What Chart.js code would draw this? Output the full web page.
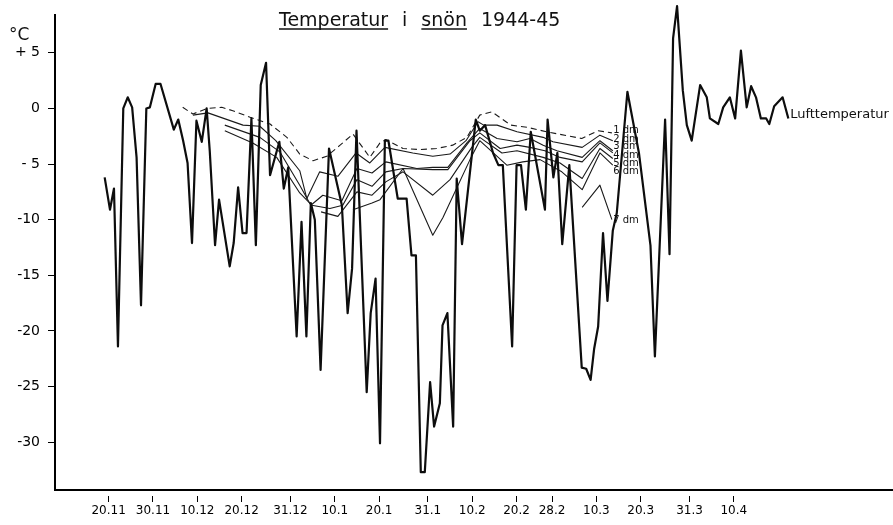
<!DOCTYPE html>
<html>
<head>
<meta charset="utf-8">
<script src="https://cdn.jsdelivr.net/npm/chart.js@4.4.1/dist/chart.umd.min.js"></script>
<style>
  html, body { margin: 0; padding: 0; background: #fff; }
  #wrap { width: 893px; height: 525px; }
</style>
</head>
<body>
<div id="wrap"><canvas id="snoChart" width="893" height="525"></canvas></div>
<script>
// x = dag räknat från 1 nov 1944 (1.11 = 1, 1.12 = 31, 1.1 = 62 ...)
const tickDays = [20, 30, 40, 50, 61, 71, 81, 92, 102, 112, 120, 130, 140, 151, 161];
const tickLabels = ['20.11', '30.11', '10.12', '20.12', '31.12', '10.1', '20.1', '31.1', '10.2', '20.2', '28.2', '10.3', '20.3', '31.3', '10.4'];
const tempTicks = [5, 0, -5, -10, -15, -20, -25, -30];
const tempTickLabels = ['+ 5', '0', '- 5', '-10', '-15', '-20', '-25', '-30'];

// lufttemperatur
const airDays = [19.1,20.3,21.2,22.1,23.3,24.3,25.3,26.3,27.3,28.5,29.3,30.6,31.7,34.7,35.7,36.8,37.8,38.8,39.8,41.0,
  42.1,42.8,44.0,44.9,47.3,48.2,49.2,50.2,51.1,52.2,53.2,54.3,55.5,56.4,58.5,59.5,60.5,62.4,63.5,64.6,
  65.6,66.5,67.8,69.7,72.6,73.9,74.9,75.9,78.2,79.1,80.2,81.2,82.3,83.1,85.2,87.2,88.3,89.3,90.4,91.3,
  92.5,93.4,94.7,95.3,96.4,97.7,98.5,99.7,102.8,103.7,104.9,106.7,107.9,108.9,111.0,112.0,113.0,114.1,115.2,118.4,
  119.0,120.3,121.2,122.3,123.9,126.7,127.7,128.7,129.5,130.4,131.5,132.5,133.7,134.6,137.0,139.6,142.2,143.2,145.5,146.5,
  147.3,148.2,149.5,150.4,151.5,153.4,154.9,155.6,157.5,158.6,160.1,161.3,162.6,163.9,164.9,166.0,167.1,168.3,169.0,170.1,
  172.0,173.3];
const airTemps = [-6.2,-9.1,-7.2,-21.4,0,1.0,0.1,-4.4,-17.7,0,0.1,2.2,2.2,-1.9,-1.0,-2.9,-4.9,-12.1,-1.1,-3.0,
  0,-3.8,-12.3,-8.2,-14.2,-12.1,-7.1,-11.2,-11.2,-0.9,-12.3,2.1,4.1,-6.0,-3.0,-7.2,-5.3,-20.5,-10.2,-20.5,
  -8.5,-10.0,-23.5,-3.6,-8.7,-18.4,-14.4,-2.0,-25.5,-18.4,-15.3,-30.1,-2.9,-2.9,-8.1,-8.1,-13.2,-13.2,-32.7,-32.7,
  -24.6,-28.6,-26.5,-19.5,-18.4,-28.6,-6.3,-12.2,-1.0,-2.0,-1.5,-4.0,-5.1,-5.1,-21.4,-5.1,-5.1,-9.1,-2.1,-9.1,
  -1.0,-6.2,-4.0,-12.2,-5.1,-23.3,-23.4,-24.4,-21.6,-19.6,-11.2,-17.3,-11.0,-9.4,1.5,-4.0,-12.3,-22.3,-1.0,-13.1,
  6.3,9.2,1.6,-1.5,-2.9,2.1,1.0,-0.9,-1.4,0.1,1.0,-0.9,5.2,0.1,2.0,1.0,-0.9,-0.9,-1.4,0.2,
  1.0,-0.9];

// temperatur i snön, djup 1-7 dm
const dm1Days = [36.7,39.0,42.2,45.5,48.0,51.9,56.4,60.2,63.1,66.1,69.2,72.2,75.1,78.9,81.2,82.5,86.4,90.2,94.0,97.6,100.8,103.7,106.4,110.7,114.5,118.8,126.7,130.4,133.5];
const dm1Temps = [0.1,-0.5,0.0,0.1,-0.2,-0.8,-1.4,-2.6,-4.1,-4.7,-4.3,-3.3,-2.3,-4.4,-3.1,-2.8,-3.6,-3.7,-3.6,-3.3,-2.6,-0.6,-0.3,-1.5,-1.7,-2.1,-2.7,-2.0,-2.2];

const dm2Days = [39.0,42.4,50.3,54.1,57.7,63.1,64.7,67.6,71.7,75.8,78.9,82.3,88.6,93.1,97.0,100.6,103.3,104.6,107.6,112.1,118.0,120.2,126.8,130.8,133.7];
const dm2Temps = [-0.6,-0.4,-1.5,-1.6,-2.9,-5.6,-8.1,-5.7,-6.1,-4.0,-4.9,-3.5,-4.0,-4.3,-4.1,-2.9,-1.2,-1.5,-1.5,-2.1,-2.6,-3.0,-3.5,-2.4,-2.9];

const dm3Days = [46.2,54.1,58.6,63.1,65.6,68.3,72.6,76.0,79.4,82.5,89.5,93.1,96.5,100.8,103.7,107.6,112.1,115.0,118.0,121.1,126.8,130.8,133.7];
const dm3Temps = [-1.5,-2.6,-3.9,-6.9,-8.7,-7.8,-8.3,-5.4,-5.8,-4.8,-5.4,-5.3,-5.3,-3.1,-1.8,-2.7,-3.0,-2.7,-3.3,-3.8,-4.4,-2.9,-3.8];

const dm4Days = [46.2,52.5,57.9,63.1,65.8,69.9,72.8,76.0,79.4,82.5,86.4,93.1,96.5,101.5,103.7,108.3,112.1,115.0,118.4,121.8,126.8,130.8,133.7];
const dm4Temps = [-2.0,-3.1,-4.4,-7.6,-8.7,-9.0,-8.7,-6.4,-7.0,-5.7,-5.4,-5.5,-5.5,-2.9,-2.2,-3.6,-3.3,-3.5,-3.8,-4.4,-4.8,-3.1,-4.0];

const dm5Days = [67.9,71.7,76.0,79.4,82.5,86.4,93.1,97.0,101.9,103.7,108.7,112.1,118.0,121.8,126.8,130.8,133.7];
const dm5Temps = [-9.3,-9.7,-7.5,-7.8,-6.6,-5.7,-7.8,-6.4,-3.5,-2.6,-4.0,-3.8,-4.4,-4.9,-6.3,-3.6,-4.5];

const dm6Days = [75.1,79.4,81.2,86.4,93.1,95.4,101.5,103.7,109.8,113.4,117.3,122.2,126.8,130.8,133.7];
const dm6Temps = [-9.1,-8.5,-8.2,-5.4,-11.4,-9.8,-4.6,-2.9,-5.1,-4.8,-4.6,-5.7,-7.3,-4.0,-5.1];

const dm7Days = [126.8,130.8,133.5];
const dm7Temps = [-8.9,-6.9,-10.0];

const depthLabels = ['1 dm', '2 dm', '3 dm', '4 dm', '5 dm', '6 dm', '7 dm'];

function serie(days, temps) {
  return days.map((d, i) => ({ x: d, y: temps[i] }));
}

function snoLinje(label, days, temps, dash) {
  return {
    label: label,
    data: serie(days, temps),
    borderColor: '#1a1a1a',
    borderWidth: 1.1,
    borderDash: dash || [],
    borderJoinStyle: 'round',
    pointRadius: 0,
    tension: 0,
    fill: false
  };
}

// texter: rubrik, enhet och linjenamn
const texter = {
  id: 'texter',
  afterDraw(chart) {
    const { ctx, scales: { x, y } } = chart;
    ctx.save();
    ctx.fillStyle = '#111';
    ctx.strokeStyle = '#111';

    // rubrik
    ctx.font = '19px "DejaVu Sans"';
    ctx.textAlign = 'left';
    ctx.textBaseline = 'alphabetic';
    const ord = ['Temperatur', 'i', 'snön', '1944-45'];
    let px = 279;
    ord.forEach((w, i) => {
      const b = ctx.measureText(w).width;
      ctx.fillText(w, px, 26);
      if (i === 0 || i === 2) {
        ctx.lineWidth = 1.3;
        ctx.beginPath();
        ctx.moveTo(px, 29);
        ctx.lineTo(px + b, 29);
        ctx.stroke();
      }
      px += b + 14;
    });

    // enhet
    ctx.font = '17px "DejaVu Sans"';
    ctx.fillText('°C', 9, 40);

    // Lufttemperatur
    ctx.font = '13px "DejaVu Sans"';
    ctx.textBaseline = 'middle';
    ctx.fillText('Lufttemperatur', x.getPixelForValue(173.7), y.getPixelForValue(-0.6));

    // djupangivelser vid linjernas slut
    ctx.font = '10px "DejaVu Sans"';
    const labelTemps = [-1.95, -2.75, -3.45, -4.2, -4.9, -5.7, -10.1];
    depthLabels.forEach((t, i) => {
      ctx.fillText(t, x.getPixelForValue(133.8), y.getPixelForValue(labelTemps[i]));
    });
    ctx.restore();
  }
};

new Chart(document.getElementById('snoChart'), {
  type: 'line',
  data: {
    datasets: [
      {
        label: 'Lufttemperatur',
        data: serie(airDays, airTemps),
        borderColor: '#0d0d0d',
        borderWidth: 2.2,
        borderJoinStyle: 'round',
        pointRadius: 0,
        tension: 0,
        fill: false,
        clip: false
      },
      snoLinje('1 dm', dm1Days, dm1Temps, [6, 4]),
      snoLinje('2 dm', dm2Days, dm2Temps),
      snoLinje('3 dm', dm3Days, dm3Temps),
      snoLinje('4 dm', dm4Days, dm4Temps),
      snoLinje('5 dm', dm5Days, dm5Temps),
      snoLinje('6 dm', dm6Days, dm6Temps),
      snoLinje('7 dm', dm7Days, dm7Temps)
    ]
  },
  options: {
    responsive: false,
    devicePixelRatio: 1,
    animation: false,
    layout: { padding: { top: 15, left: 0, right: 0, bottom: 0 } },
    plugins: {
      legend: { display: false },
      tooltip: { enabled: false },
      title: { display: false }
    },
    scales: {
      x: {
        type: 'linear',
        min: 7.9,
        max: 196.9,
        afterBuildTicks: s => { s.ticks = tickDays.map(v => ({ value: v })); },
        afterFit: s => { s.height = 35; },
        border: { display: true, color: '#000', width: 2 },
        grid: {
          drawOnChartArea: false,
          drawTicks: true,
          tickLength: 12,
          color: '#000',
          lineWidth: 1,
          tickBorderDash: [0, 5, 7, 40]
        },
        ticks: {
          autoSkip: false,
          maxRotation: 0,
          padding: 2,
          color: '#000',
          font: { family: 'DejaVu Sans', size: 12 },
          callback: (v, i) => tickLabels[i]
        }
      },
      y: {
        type: 'linear',
        min: -34.3,
        max: 8.4,
        afterBuildTicks: s => { s.ticks = tempTicks.map(v => ({ value: v })); },
        afterFit: s => { s.width = 55; },
        border: { display: true, color: '#000', width: 2 },
        grid: {
          drawOnChartArea: false,
          drawTicks: true,
          tickLength: 12,
          color: '#000',
          lineWidth: 1,
          tickBorderDash: [0, 5, 7, 40]
        },
        ticks: {
          padding: 3,
          color: '#000',
          font: { family: 'DejaVu Sans', size: 14 },
          callback: (v, i) => tempTickLabels[i]
        }
      }
    }
  },
  plugins: [texter]
});
</script>
</body>
</html>
